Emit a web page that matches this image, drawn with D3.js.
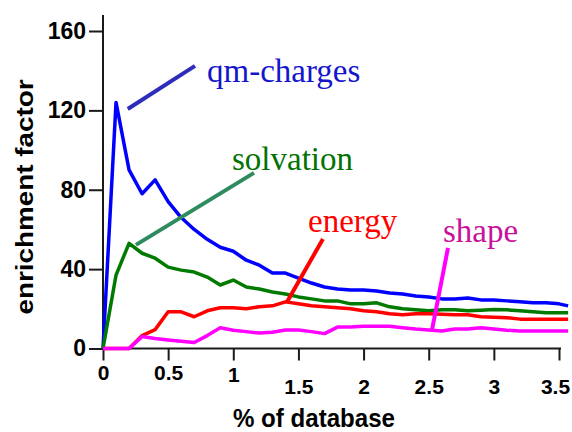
<!DOCTYPE html>
<html>
<head>
<meta charset="utf-8">
<script src="https://cdn.jsdelivr.net/npm/d3@7"></script>
<style>
  body { margin: 0; background: #fff; }
  #chart svg { display: block; }
</style>
</head>
<body>
<div id="chart"></div>
<script>
// x values (% of database)
const xValues = [0, 0.1, 0.2, 0.3, 0.4, 0.5, 0.6, 0.7, 0.8, 0.9, 1.0, 1.1, 1.2, 1.3, 1.4, 1.5, 1.6, 1.7, 1.8,
                 1.9, 2.0, 2.1, 2.2, 2.3, 2.4, 2.5, 2.6, 2.7, 2.8, 2.9, 3.0, 3.1, 3.2, 3.3, 3.4, 3.5, 3.57];

// enrichment factor per descriptor
const qmCharges = [0, 124, 90, 78, 85, 74, 66, 60, 55, 51, 49, 44.5, 42, 38, 38, 35.5, 33, 31, 30,
                   29.5, 29.5, 29, 28, 27.5, 26.5, 26, 25, 25, 25.5, 24.5, 24.5, 24, 23.5, 23, 23, 22.5, 21.5];
const solvation = [0, 37, 53, 48, 45.5, 41, 39.5, 38.5, 36, 32, 34.5, 31, 30, 28.5, 27.5, 26, 25, 24, 24,
                   22.5, 22.5, 23, 21, 20, 19.5, 19, 19.5, 19.5, 19, 19.3, 19.7, 19.5, 19, 18.5, 18, 18, 18];
const energy = [0, 0, 0, 6.5, 9.5, 18.5, 18.5, 16, 19, 20.5, 20.5, 20, 21, 21.5, 23.5, 22.5, 21.5, 21, 20.5,
                20, 19, 18.5, 17.5, 17, 17.5, 17.5, 17.2, 17, 17, 16, 15.7, 15.5, 14.8, 14.8, 14.8, 14.8, 14.8];
const shape = [0, 0, 0, 6, 5, 4.3, 3.6, 3, 6.5, 10.5, 9.2, 8.5, 7.8, 8.2, 9.3, 9.3, 8.5, 7.5, 10.8,
               10.8, 11.2, 11.2, 11.2, 10.5, 9.8, 9.3, 8.8, 9.8, 9.8, 10.4, 9.8, 9.2, 8.8, 8.8, 8.8, 8.8, 8.8];

const seriesNames = ["qm-charges", "solvation", "energy", "shape"];
const seriesValues = [qmCharges, solvation, energy, shape];

const xTicks = [0, 0.5, 1, 1.5, 2, 2.5, 3, 3.5];
const yTicks = [0, 40, 80, 120, 160];

const width = 572;
const height = 432;

const svg = d3.select("#chart")
    .append("svg")
    .attr("width", width)
    .attr("height", height);

const x = d3.scaleLinear().domain([0, 3.5]).range([103, 559]);
const y = d3.scaleLinear().domain([0, 160]).range([348.5, 31]);

const lineColors = ["#0000ff", "#007a00", "#ff0000", "#ff00ff"];

// label placement and leader lines (leader ends in data units)
const labels = [
    { text: "qm-charges", color: "#1515cc", tx: 207, ty: 82, lineColor: "#2d2dbb", from: [0.19, 120.7], to: [0.706, 142.4] },
    { text: "solvation",  color: "#037203", tx: 232, ty: 170, lineColor: "#2e8b5e", from: [0.253, 52.2], to: [1.159, 88.5] },
    { text: "energy",     color: "#ff0000", tx: 308, ty: 232, lineColor: "#ff0000", from: [1.412, 23.4], to: [1.688, 55.2] },
    { text: "shape",      color: "#c8119c", tx: 443, ty: 242, lineColor: "#ff00ff", from: [2.525, 9.3], to: [2.648, 50.7] }
];

// axes lines
svg.append("line")
    .attr("x1", x(0)).attr("x2", x(0))
    .attr("y1", 15).attr("y2", y(0))
    .attr("stroke", "#1a1a1a").attr("stroke-width", 2);

svg.append("line")
    .attr("x1", x(0) - 1).attr("x2", x(3.5) + 2)
    .attr("y1", y(0)).attr("y2", y(0))
    .attr("stroke", "#1a1a1a").attr("stroke-width", 2);

// y axis
const yAxis = svg.append("g")
    .attr("transform", `translate(${x(0)},0)`)
    .call(d3.axisLeft(y).tickValues(yTicks).tickSize(14).tickPadding(3));
yAxis.select(".domain").remove();
yAxis.selectAll(".tick line").attr("stroke", "#1a1a1a").attr("stroke-width", 2);
yAxis.selectAll(".tick text")
    .attr("fill", "#000")
    .style("font-family", "'Liberation Sans', Arial, sans-serif")
    .style("font-weight", "bold")
    .style("font-size", "23px");

// x axis (labels beyond 1 sit lower in the original)
const xAxis = svg.append("g")
    .attr("transform", `translate(0,${y(0)})`)
    .call(d3.axisBottom(x).tickValues(xTicks).tickSize(12).tickFormat(d3.format("")));
xAxis.select(".domain").remove();
xAxis.selectAll(".tick line").attr("stroke", "#1a1a1a").attr("stroke-width", 2);
xAxis.selectAll(".tick text")
    .attr("fill", "#000")
    .attr("y", d => d > 1 ? 31 : (d === 1 ? 19 : 17))
    .attr("dx", d => d === 3.5 ? -4 : 0)
    .style("font-family", "'Liberation Sans', Arial, sans-serif")
    .style("font-weight", "bold")
    .style("font-size", "21px");

// axis titles
svg.append("text")
    .attr("transform", "translate(33,197) rotate(-90)")
    .attr("text-anchor", "middle")
    .attr("textLength", 235)
    .attr("lengthAdjust", "spacingAndGlyphs")
    .style("font-family", "'Liberation Sans', Arial, sans-serif")
    .style("font-weight", "bold")
    .style("font-size", "24px")
    .text("enrichment factor");

svg.append("text")
    .attr("x", 314)
    .attr("y", 427)
    .attr("text-anchor", "middle")
    .attr("textLength", 162)
    .attr("lengthAdjust", "spacingAndGlyphs")
    .style("font-family", "'Liberation Sans', Arial, sans-serif")
    .style("font-weight", "bold")
    .style("font-size", "25px")
    .text("% of database");

// series lines
const line = d3.line()
    .x((d, i) => x(xValues[i]))
    .y(d => y(d));

seriesValues.forEach((vals, i) => {
    svg.append("path")
        .datum(vals)
        .attr("d", line)
        .attr("fill", "none")
        .attr("stroke", lineColors[i])
        .attr("stroke-width", 3.5)
        .attr("stroke-linejoin", "round");
});

// leader lines and labels
labels.forEach(l => {
    svg.append("line")
        .attr("x1", x(l.from[0])).attr("y1", y(l.from[1]))
        .attr("x2", x(l.to[0])).attr("y2", y(l.to[1]))
        .attr("stroke", l.lineColor)
        .attr("stroke-width", 4);

    svg.append("text")
        .attr("x", l.tx)
        .attr("y", l.ty)
        .attr("fill", l.color)
        .style("font-family", "'Liberation Serif', 'Times New Roman', serif")
        .style("font-size", "33px")
        .text(l.text);
});
</script>
</body>
</html>
